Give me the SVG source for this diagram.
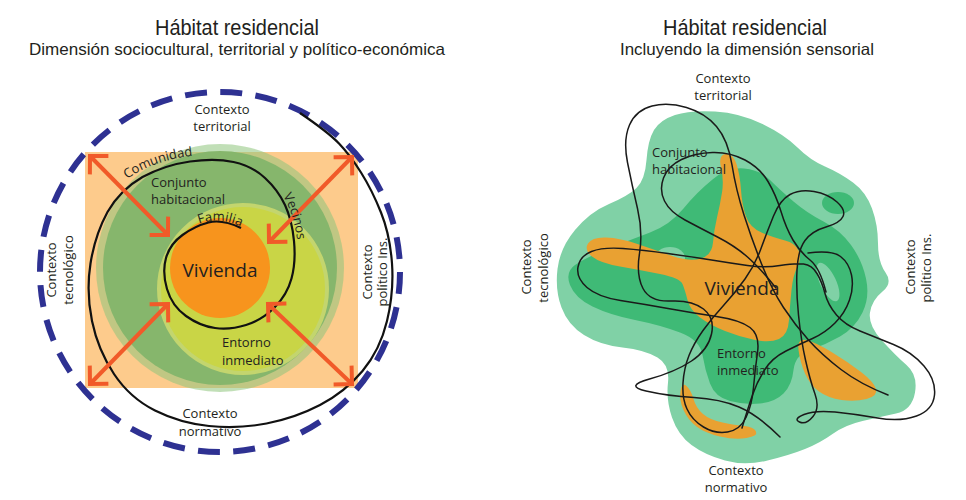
<svg xmlns="http://www.w3.org/2000/svg" width="966" height="500" viewBox="0 0 966 500">
<style>
.t{font-family:"Open Sans","Liberation Sans",sans-serif;font-size:13px;fill:#231f20}
.big{font-size:19px}
.ttl{font-family:"Liberation Sans",Arial,sans-serif;fill:#231f20}
.tangle{fill:none;stroke:#1a1a1a;stroke-width:1.5;stroke-linecap:round;stroke-linejoin:round}
.arr{stroke:#F15A29;stroke-width:4;fill:none}
</style>
<defs>
<marker id="chev" markerUnits="userSpaceOnUse" markerWidth="30" markerHeight="30" viewBox="-25 -15 30 30" refX="0" refY="0" orient="auto-start-reverse">
<path d="M-13,-13 L0,0 L-13,13" fill="none" stroke="#F15A29" stroke-width="4"/>
</marker>
<path id="pComunidad" d="M127,179 Q160,156 208,155"/>
<path id="pFamilia" d="M199,224 Q224,215 248,231"/>
<path id="pVecinos" d="M283,196 Q297,218 299,262"/>
</defs>
<rect width="966" height="500" fill="#ffffff"/>

<g id="titles">
<text class="ttl" x="237" y="35" font-size="22" text-anchor="middle" textLength="164" lengthAdjust="spacingAndGlyphs">Hábitat residencial</text>
<text class="ttl" x="237" y="55" font-size="16.5" text-anchor="middle" textLength="416" lengthAdjust="spacingAndGlyphs">Dimensión sociocultural, territorial y político-económica</text>
<text class="ttl" x="745" y="35" font-size="22" text-anchor="middle" textLength="164" lengthAdjust="spacingAndGlyphs">Hábitat residencial</text>
<text class="ttl" x="747" y="55" font-size="16.5" text-anchor="middle" textLength="254" lengthAdjust="spacingAndGlyphs">Incluyendo la dimensión sensorial</text>
</g>

<g id="left-diagram">
<rect id="contexto-square" x="85" y="152" width="273" height="236" fill="#FDCB8C"/>
<circle id="comunidad-rim" cx="220" cy="268" r="124" fill="#8EC47C" opacity="0.55"/>
<circle id="conjunto-habitacional" cx="220" cy="268" r="117" fill="#86B66C"/>
<circle id="entorno-inmediato" cx="243" cy="289" r="84" fill="#C9D546" stroke="#C3D56E" stroke-width="4"/>
<circle id="vivienda" cx="220" cy="268" r="50" fill="#F7941D"/>
<circle id="dashed-context" cx="220" cy="272" r="180" fill="none" stroke="#2E3192" stroke-width="6" stroke-dasharray="22 13.34"/>
<path id="spiral" fill="none" stroke="#111" stroke-width="2.2" d="M241,228 Q222,219 208.5,222.5 Q195,226 182.5,235 Q170,244 166,258 Q162,272 167,289 Q172,306 186,316 Q200,326 215,328 Q230,330 246,325 Q262,320 274.5,307.5 Q287,295 291.5,278.5 Q296,262 294,241 Q292,220 285,205 Q278,190 265,178 Q252,166 233.5,162 Q215,158 190,161.5 Q165,165 142.5,177 Q120,190 107.5,212 Q95,235 90.5,263.5 Q86,292 92,321 Q98,350 114,374 Q130,398 155,410.5 Q180,423 209,426 Q238,429 266.5,423.5 Q295,418 320,405 Q345,392 362.5,371 Q380,350 387,321 Q394,292 392,263.5 Q390,235 381,212.5 Q372,190 361,172.5 Q350,155 339,143.5 Q328,132 300,113"/>
</g>

<g id="connectors">
<line class="arr" x1="90" y1="156" x2="168" y2="235" marker-start="url(#chev)" marker-end="url(#chev)"/>
<line class="arr" x1="352" y1="157" x2="269" y2="242" marker-start="url(#chev)" marker-end="url(#chev)"/>
<line class="arr" x1="90" y1="384" x2="168" y2="304" marker-start="url(#chev)" marker-end="url(#chev)"/>
<line class="arr" x1="352" y1="384" x2="268" y2="304" marker-start="url(#chev)" marker-end="url(#chev)"/>
</g>

<g id="left-labels">
<text class="t" x="222" y="114" text-anchor="middle">Contexto</text>
<text class="t" x="222" y="131" text-anchor="middle">territorial</text>
<text class="t" font-size="13.5"><textPath href="#pComunidad">Comunidad</textPath></text>
<text class="t" x="151" y="187">Conjunto</text>
<text class="t" x="151" y="204">habitacional</text>
<text class="t" font-size="12"><textPath href="#pFamilia">Familia</textPath></text>
<text class="t" font-size="12"><textPath href="#pVecinos">Vecinos</textPath></text>
<text class="t big" x="220" y="277" text-anchor="middle">Vivienda</text>
<text class="t" x="222" y="347">Entorno</text>
<text class="t" x="222" y="365">inmediato</text>
<text class="t" x="210" y="418" text-anchor="middle">Contexto</text>
<text class="t" x="210" y="436" text-anchor="middle">normativo</text>
<text class="t" text-anchor="middle" transform="translate(56,270) rotate(-90)">Contexto</text>
<text class="t" text-anchor="middle" transform="translate(73,270) rotate(-90)">tecnológico</text>
<text class="t" text-anchor="middle" transform="translate(372,272) rotate(-90)">Contexto</text>
<text class="t" text-anchor="middle" transform="translate(387,272) rotate(-90)">político Ins.</text>
</g>

<g id="right-diagram">
<path id="conjunto-blob" fill="#80D1A6" d="M646.5,160 Q648,140 654,130 Q660,120 675,115 Q690,110 715,111.5 Q740,113 762.5,124 Q785,135 797.5,147.5 Q810,160 825,166.5 Q840,173 853,182.5 Q866,192 872,208.5 Q878,225 878,243.5 Q878,262 885.5,272.5 Q893,283 882.5,291.5 Q872,300 870,312.5 Q868,325 881.5,340 Q895,355 906.5,365 Q918,375 915,392.5 Q912,410 896,413.5 Q880,417 862.5,421 Q845,425 832.5,434 Q820,443 805,449 Q790,455 767.5,460.5 Q745,466 725,460.5 Q705,455 691.5,445 Q678,435 672,417.5 Q666,400 668,382.5 Q670,365 657.5,357.5 Q645,350 622.5,347.5 Q600,345 584,335 Q568,325 561.5,307.5 Q555,290 557.5,269 Q560,248 575,230 Q590,212 609,204 Q628,196 636.5,188 Q645,180 646.5,160 Z"/>
<path id="entorno-blob" fill="#3FBA76" d="M683.5,208.5 Q697,192 712.5,179.5 Q728,167 744,168.5 Q760,170 770,180 Q780,190 793.5,201.5 Q807,213 823.5,221.5 Q840,230 851,245 Q862,260 866,278.5 Q870,297 862.5,312.5 Q855,328 840,336.5 Q825,345 810,350 Q795,355 793.5,370 Q792,385 783.5,393.5 Q775,402 760,403.5 Q745,405 730,401 Q715,397 710,383.5 Q705,370 702.5,355 Q700,340 680,332.5 Q660,325 635,320 Q610,315 592.5,306.5 Q575,298 570,285 Q565,272 575,265 Q585,258 607.5,249 Q630,240 650,232.5 Q670,225 683.5,208.5 Z"/>
<ellipse cx="838" cy="203" rx="16" ry="11" fill="#3FBA76"/>
<ellipse cx="670" cy="258" rx="15" ry="11" fill="#80D1A6"/>
<ellipse cx="828" cy="282" rx="8" ry="21" transform="rotate(-25 828 282)" fill="#80D1A6"/>
<path id="vivienda-blob" fill="#E9A132" d="M721,167.5 Q718,155 725.5,154 Q733,153 736.5,164 Q740,175 741,190 Q742,205 746,216.5 Q750,228 762.5,233 Q775,238 785,240.5 Q795,243 798.5,250.5 Q802,258 797.5,266.5 Q793,275 791.5,290 Q790,305 789,320 Q788,335 779,339 Q770,343 755,340 Q740,337 725,331 Q710,325 700,317.5 Q690,310 687.5,300 Q685,290 682.5,284 Q680,278 660,274 Q640,270 620,266.5 Q600,263 592,256.5 Q584,250 588,243.5 Q592,237 606,237.5 Q620,238 637.5,244 Q655,250 672.5,256 Q690,262 701,258.5 Q712,255 713,242.5 Q714,230 717,217.5 Q720,205 722,192.5 Q724,180 721,167.5 Z"/>
<path fill="#E9A132" d="M798.5,350 Q797,338 806,340 Q815,342 831.5,352 Q848,362 861,372 Q874,382 876,389 Q878,396 866.5,399 Q855,402 841.5,400 Q828,398 819,391.5 Q810,385 805,373.5 Q800,362 798.5,350 Z"/>
<path fill="#E9A132" d="M680.5,391 Q682,382 686.5,386 Q691,390 693.5,399 Q696,408 703,414 Q710,420 722.5,422.5 Q735,425 744.5,426 Q754,427 756,431.5 Q758,436 746.5,438 Q735,440 720,436.5 Q705,433 696.5,426.5 Q688,420 683.5,410 Q679,400 680.5,391 Z"/>
<g id="sensorial-tangle">
<path class="tangle" d="M888,395 Q860,384 841,369.5 Q822,355 808.5,340 Q795,325 783.5,307.5 Q772,290 762,265 Q752,240 744,215 Q736,190 732,165 Q728,140 716.5,126.5 Q705,113 686.5,107.5 Q668,102 652,106 Q636,110 629.5,125 Q623,140 627.5,162.5 Q632,185 637.5,208.5 Q643,232 639.5,253.5 Q636,275 643,288.5 Q650,302 671,301 Q692,300 703.5,309 Q715,318 711.5,334 Q708,350 691.5,361 Q675,372 649.5,379 Q624,386 646,391 Q668,396 694,397.5 Q720,399 739,407 Q758,415 780,437"/>
<path class="tangle" d="M773.5,216 Q780,200 790,194.5 Q800,189 814,191.5 Q828,194 837,202 Q846,210 843,216.5 Q840,223 826,227 Q812,231 805,240.5 Q798,250 797,270 Q796,290 798.5,315 Q801,340 805.5,360 Q810,380 815,394 Q820,408 813,416.5 Q806,425 799.5,422 Q793,419 804,414.5 Q815,410 835,412 Q855,414 877.5,418 Q900,422 916.5,416 Q933,410 934.5,395 Q936,380 924,366 Q912,352 893.5,344.5 Q875,337 860,331 Q845,325 836.5,315 Q828,305 825,293.5 Q822,282 817,273.5 Q812,265 803.5,264 Q795,263 780,265.5 Q765,268 747.5,265.5 Q730,263 711.5,260 Q693,257 668,253.5 Q643,250 623,248.5 Q603,247 591.5,251.5 Q580,256 578,267 Q576,278 587,287.5 Q598,297 620.5,300.5 Q643,304 668,308.5 Q693,313 716.5,316.5 Q740,320 750,327.5 Q760,335 757.5,352.5 Q755,370 753.5,387.5 Q752,405 746,417.5 Q740,430 727.5,432 Q715,434 703.5,427 Q692,420 687,409 Q682,398 683,383 Q684,368 689,355.5 Q694,343 703,330.5 Q712,318 723.5,305.5 Q735,293 745,279 Q755,265 761,248.5 Q767,232 773.5,216 Z"/>
<path class="tangle" d="M808,253 Q832,250 840.5,256.5 Q849,263 851.5,275 Q854,287 849.5,300 Q845,313 835,323 Q825,333 812.5,338.5 Q800,344 786,351 Q772,358 764.5,370 Q757,382 752.5,395 Q748,408 742,428"/>
<path class="tangle" d="M776,288 Q760,268 747.5,257 Q735,246 717.5,237 Q700,228 685,220 Q670,212 664.5,201 Q659,190 663.5,178 Q668,166 681.5,159.5 Q695,153 712.5,152.5 Q730,152 745,160 Q760,168 768,181.5 Q776,195 781,211.5 Q786,228 793,240 Q800,252 810,260 Q820,268 826,292"/>
</g>
</g>

<g id="right-labels">
<text class="t" x="723" y="83" text-anchor="middle">Contexto</text>
<text class="t" x="723" y="100" text-anchor="middle">territorial</text>
<text class="t" x="652" y="157">Conjunto</text>
<text class="t" x="652" y="174">habitacional</text>
<text class="t big" x="742" y="295" text-anchor="middle">Vivienda</text>
<text class="t" x="717" y="358">Entorno</text>
<text class="t" x="717" y="375">inmediato</text>
<text class="t" x="736" y="475" text-anchor="middle">Contexto</text>
<text class="t" x="736" y="492" text-anchor="middle">normativo</text>
<text class="t" text-anchor="middle" transform="translate(531,267) rotate(-90)">Contexto</text>
<text class="t" text-anchor="middle" transform="translate(548,268) rotate(-90)">tecnológico</text>
<text class="t" text-anchor="middle" transform="translate(915,267) rotate(-90)">Contexto</text>
<text class="t" text-anchor="middle" transform="translate(931,268) rotate(-90)">político Ins.</text>
</g>
</svg>
